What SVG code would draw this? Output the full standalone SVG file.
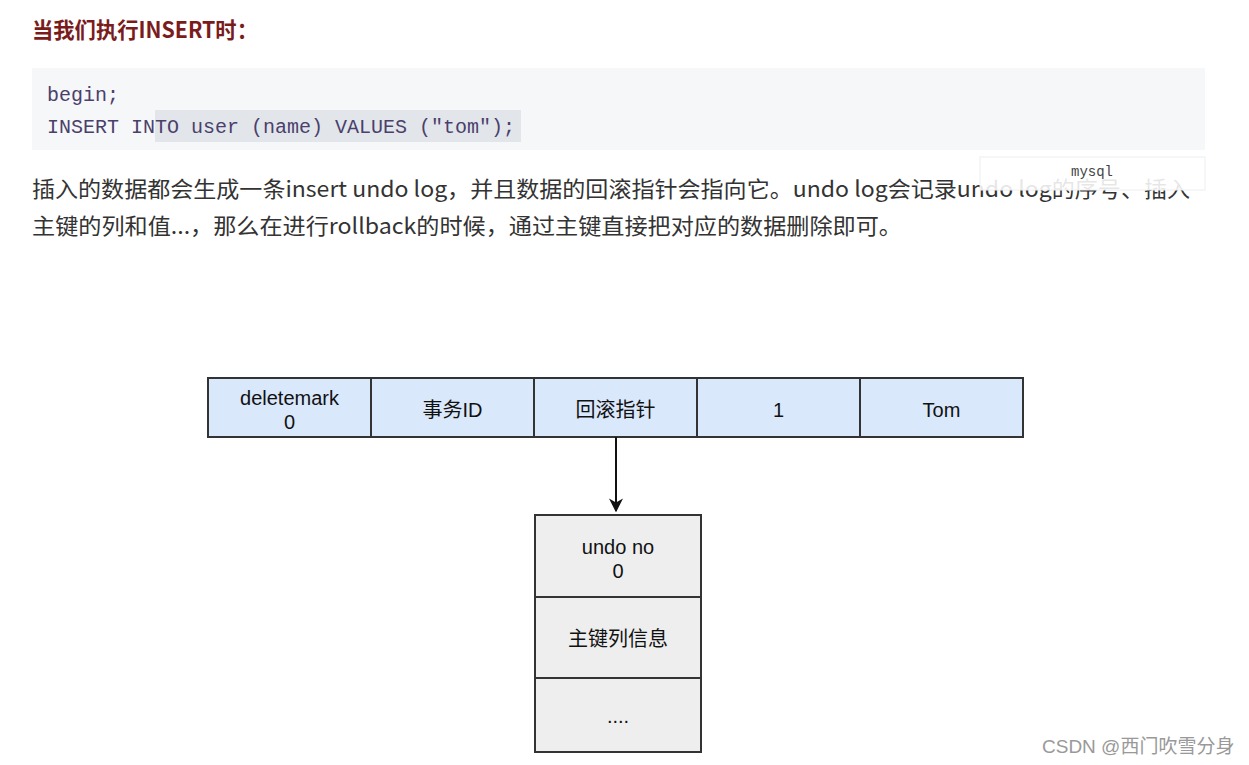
<svg xmlns="http://www.w3.org/2000/svg" width="1249" height="765" viewBox="0 0 1249 765">
<style>
.cjk{font-family:"Noto Sans CJK SC","Noto Sans",sans-serif}
.code{font-family:"Liberation Mono",monospace;font-size:20px;fill:#4b3f6b}
.cell{fill:#dae8fc;stroke:#333;stroke-width:2}
.ucell{fill:#eeeeee;stroke:#333;stroke-width:2}
.lbl{font-family:"Liberation Sans","Noto Sans CJK SC",sans-serif;font-size:20px;fill:#111;text-anchor:middle}
</style>
<defs>
<marker id="ah" viewBox="0 0 10 10" refX="9" refY="5" markerWidth="7" markerHeight="7" orient="auto" markerUnits="strokeWidth">
<path d="M0,0 L10,5 L0,10 L3,5 z" fill="#111"/>
</marker>
</defs>
<rect width="1249" height="765" fill="#ffffff"/>
<text class="cjk" x="32" y="38" font-size="22" font-weight="bold" fill="#7a1c1c" textLength="226" lengthAdjust="spacingAndGlyphs">当我们执行INSERT时：</text>
<rect x="32" y="68" width="1173" height="82" fill="#f6f7f8"/>
<rect x="155" y="110" width="366" height="32" fill="#e2e6eb"/>
<text class="code" x="47" y="101">begin;</text>
<text class="code" x="47" y="133">INSERT INTO user (name) VALUES ("tom");</text>
<text class="cjk" x="32" y="197" font-size="22" fill="#333" textLength="1158" lengthAdjust="spacingAndGlyphs">插入的数据都会生成一条insert undo log，并且数据的回滚指针会指向它。undo log会记录undo log的序号、插入</text>
<text class="cjk" x="32" y="234" font-size="22" fill="#333" textLength="870" lengthAdjust="spacingAndGlyphs">主键的列和值...，那么在进行rollback的时候，通过主键直接把对应的数据删除即可。</text>
<rect x="980" y="157" width="225" height="33" fill="#ffffff" fill-opacity="0.88" stroke="#eceef0" stroke-width="1"/>
<text x="1092" y="176" font-family="Liberation Mono,monospace" font-size="14" fill="#444" text-anchor="middle">mysql</text>
<g id="row">
<g id="c1"><rect class="cell" x="208" y="378" width="163" height="59"/><text class="lbl" x="289.5" y="405">deletemark</text><text class="lbl" x="289.5" y="429">0</text></g>
<g id="c2"><rect class="cell" x="371" y="378" width="163" height="59"/><text class="lbl" x="452.5" y="417">事务ID</text></g>
<g id="c3"><rect class="cell" x="534" y="378" width="163" height="59"/><text class="lbl" x="615.5" y="417">回滚指针</text></g>
<g id="c4"><rect class="cell" x="697" y="378" width="163" height="59"/><text class="lbl" x="778.5" y="417">1</text></g>
<g id="c5"><rect class="cell" x="860" y="378" width="163" height="59"/><text class="lbl" x="941.5" y="417">Tom</text></g>
</g>
<g id="connectors">
<line x1="616" y1="437" x2="616" y2="511" stroke="#111" stroke-width="2" marker-end="url(#ah)"/>
</g>
<g id="undo">
<g id="u1"><rect class="ucell" x="535" y="515" width="166" height="82"/><text class="lbl" x="618" y="554">undo no</text><text class="lbl" x="618" y="578">0</text></g>
<g id="u2"><rect class="ucell" x="535" y="597" width="166" height="81"/><text class="lbl" x="618" y="646">主键列信息</text></g>
<g id="u3"><rect class="ucell" x="535" y="678" width="166" height="74"/><text class="lbl" x="618" y="723">....</text></g>
</g>
<text x="1042" y="753" font-family="Liberation Sans,Noto Sans CJK SC,sans-serif" font-size="19" fill="#999">CSDN @西门吹雪分身</text>
</svg>
